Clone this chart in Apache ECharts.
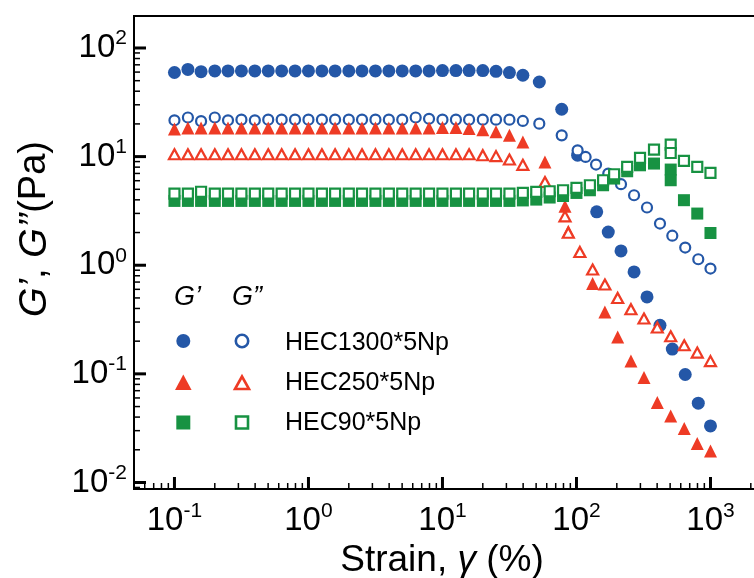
<!DOCTYPE html>
<html><head><meta charset="utf-8">
<script src="https://cdn.jsdelivr.net/npm/echarts@6/dist/echarts.min.js"></script>
<style>html,body{margin:0;padding:0;background:#fff}#c{width:754px;height:578px}</style>
</head><body><div id="c"></div>
<script>
const FONT = '"Liberation Sans", Arial, Helvetica, sans-serif';
const BLUE = '#2457A7', RED = '#EE3B25', GREEN = '#179242';

// strain values (%) shared by the linear-region points
const strainLow = [0.1,0.126,0.158,0.2,0.251,0.316,0.398,0.501,0.631,0.794,1,1.26,1.58,2,2.51,3.16,3.98,5.01,6.31,7.94,10,12.6,15.8,20,25.1,31.6,39.8];

// HEC1300*5Np
const hec1300StrainGp  = strainLow.concat([52.8,77.6,102,141.6,172.7,215,269,336,420,519,648,811,1000]);
const hec1300Gp = [59.5,63.5,60.5,61.5,61.5,61.5,61.5,61.5,61.5,61.5,61.5,61.5,61.5,61.5,61.5,61.5,61.5,61.5,61.5,61.5,
  62,62,62,62,61,59.4,56.1, 48.6,27.3,10.3,3.10,2.02,1.354,0.868,0.511,0.280,0.169,0.0986,0.0537,0.0332];
const hec1300StrainGpp = strainLow.concat([52.8,77.6,102,117,140,172.7,215,269,336,420,519,648,811,1000]);
const hec1300Gpp = [21.6,22.9,21.2,22.9,21.6,21.9,21.6,21.9,21.9,21.9,21.9,21.9,21.9,21.9,21.9,21.9,21.9,21.9,22.9,22.3,
  21.9,21.9,21.9,21.9,21.9,21.9,21.3, 20.1,15.7,11.4,9.93,8.45,6.98,5.57,4.41,3.40,2.42,1.87,1.455,1.135,0.932];

// HEC250*5Np
const hec250StrainGp  = strainLow.concat([58.2,82.1,86.9,132,163,203,255,319,401,505,637,797,1000]);
const hec250Gp = [18.0,18.3,18.3,18.3,18.3,18.3,18.3,18.3,18.3,18.3,18.3,18.3,18.3,18.3,18.3,18.3,18.3,18.3,18.3,18.3,
  18.5,18.5,18.1,17.7,16.9,15.7,13.6, 8.93,3.49,2.06,0.679,0.372,0.219,0.131,0.0925,0.0545,0.041,0.0314,0.0229,0.0195];
const hec250StrainGpp = strainLow.concat([58.2,82.1,86.9,106,132,163,203,255,319,401,505,637,797,1000]);
const hec250Gpp = [10.5,10.5,10.5,10.5,10.5,10.5,10.5,10.5,10.5,10.5,10.5,10.5,10.5,10.5,10.5,10.5,10.5,10.5,10.5,10.5,
  10.5,10.5,10.5,10.3,10.1,9.4,8.4, 5.84,2.82,1.99,1.326,0.913,0.664,0.500,0.394,0.323,0.267,0.222,0.1835,0.157,0.131];

// HEC90*5Np
const hec90Strain = strainLow.concat([50.1,63.1,79.4,100,126,158,191,239,298,379,505,505,634,797,1000]);
const hec90Gp = [3.91,3.91,3.91,3.91,3.91,3.91,3.91,3.91,3.91,3.91,3.91,3.91,3.91,3.91,3.91,3.91,3.91,3.91,3.91,3.91,
  3.91,3.91,3.91,3.91,3.91,3.91,3.95, 4.02,4.20,4.34,4.63,4.90,5.45,6.28,7.33,8.32,8.63,7.60,6.06,3.97,2.99,1.98];
const hec90Gpp = [4.57,4.57,4.75,4.57,4.57,4.57,4.57,4.57,4.57,4.57,4.57,4.57,4.57,4.57,4.57,4.57,4.57,4.57,4.57,4.57,
  4.57,4.57,4.57,4.57,4.57,4.57,4.63, 4.73,4.80,4.90,5.15,5.45,6.06,6.88,8.03,9.72,11.6,12.9,10.8,9.12,8.03,7.07];

// axis ticks
const xMajorTicks = [0.1,1,10,100,1000];
const yMajorTicks = [0.01,0.1,1,10,100];
const minorMult = [2,3,4,5,6,7,8,9];
const xMinorTicks = [0.06,0.07,0.08,0.09];
[0.1,1,10,100].forEach(d => minorMult.forEach(m => xMinorTicks.push(+(d*m).toPrecision(3))));
xMinorTicks.push(2000);
const yMinorTicks = [0.009];
[0.01,0.1,1,10].forEach(d => minorMult.forEach(m => yMinorTicks.push(+(d*m).toPrecision(3))));

const X_MIN = 0.0499, X_MAX = 2342, Y_MIN = 0.00871, Y_MAX = 197;

function pairs(xs, ys){ return xs.map((x,i)=>[x, ys[i]]); }

function supLabel(v){
  const e = Math.log10(v);
  if (Math.abs(e - Math.round(e)) > 1e-6) return '';
  return '{b|10}{s|' + Math.round(e) + '}';
}
const labelRich = {
  b: {fontSize: 33, fontFamily: FONT, color: '#000', lineHeight: 40},
  s: {fontSize: 21, fontFamily: FONT, color: '#000', verticalAlign: 'top'}
};

function xTickSeries(vals, len, w){
  return {type:'custom', silent:true, z:5, clip:false, data: vals.map(v=>[v]),
    renderItem: (p, api) => {
      const c = api.coord([api.value(0), Y_MIN]);
      return {type:'line', shape:{x1:c[0], y1:c[1], x2:c[0], y2:c[1]-len}, style:{stroke:'#000', lineWidth:w}};
    }};
}
function yTickSeries(vals, len, w){
  return {type:'custom', silent:true, z:5, clip:false, data: vals.map(v=>[X_MIN, v]),
    renderItem: (p, api) => {
      const c = api.coord([X_MIN, api.value(1)]);
      return {type:'line', shape:{x1:c[0], y1:c[1], x2:c[0]+len, y2:c[1]}, style:{stroke:'#000', lineWidth:w}};
    }};
}

const chart = echarts.init(document.getElementById('c'), null, {renderer:'canvas'});
chart.setOption({
  animation: false,
  backgroundColor: '#fff',
  grid: {left: 134, top: 16, width: 626, height: 473, containLabel: false, outerBoundsMode: 'none',
    show: true, borderColor: '#000', borderWidth: 2, backgroundColor: 'transparent'},
  xAxis: {type:'log', logBase:10, min:X_MIN, max:X_MAX, splitNumber:5,
    axisLine:{show:false}, axisTick:{show:false}, splitLine:{show:false},
    axisLabel:{formatter: supLabel, rich: labelRich, margin: 12, showMinLabel:false, showMaxLabel:false},
    name: 'Strain, {i|γ} (%)', nameLocation:'middle', nameGap: 44,
    nameTextStyle:{fontSize:37, fontFamily:FONT, color:'#000', padding:[0,10,0,0],
      rich:{i:{fontSize:37, fontFamily:FONT, fontStyle:'italic', color:'#000'}}}
  },
  yAxis: {type:'log', logBase:10, min:Y_MIN, max:Y_MAX, splitNumber:5,
    axisLine:{show:false}, axisTick:{show:false}, splitLine:{show:false},
    axisLabel:{formatter: supLabel, rich: labelRich, margin: 7, showMinLabel:false, showMaxLabel:false}
  },
  graphic: [
    {type:'text', x:35, y:229, rotation:Math.PI/2, style:{
      text:'{i|G’}, {i|G’’}(Pa)', textAlign:'center', verticalAlign:'middle', fill:'#000',
      font:'38px ' + FONT,
      rich:{i:{fontStyle:'italic', fontSize:38, fontFamily:FONT, fill:'#000'}}}},
    {type:'text', x:174, y:297, style:{text:'G’', font:'italic 27px ' + FONT, fill:'#000', verticalAlign:'middle'}},
    {type:'text', x:232, y:297, style:{text:'G”', font:'italic 27px ' + FONT, fill:'#000', verticalAlign:'middle'}},
    {type:'circle', shape:{cx:183.3, cy:341, r:7}, style:{fill:BLUE}},
    {type:'circle', shape:{cx:242, cy:341, r:6.2}, style:{fill:'#fff', stroke:BLUE, lineWidth:2.6}},
    {type:'polygon', shape:{points:[[183.3,374.5],[175,390],[191.6,390]]}, style:{fill:RED}},
    {type:'polygon', shape:{points:[[242,376.5],[235,389],[249,389]]}, style:{fill:'#fff', stroke:RED, lineWidth:2.6, lineJoin:'miter'}},
    {type:'rect', shape:{x:176.3, y:415.5, width:14, height:14}, style:{fill:GREEN}},
    {type:'rect', shape:{x:236, y:416.5, width:12, height:12}, style:{fill:'#fff', stroke:GREEN, lineWidth:2.6}},
    {type:'text', x:285, y:343, style:{text:'HEC1300*5Np', font:'25px ' + FONT, fill:'#000', verticalAlign:'middle'}},
    {type:'text', x:285, y:383, style:{text:'HEC250*5Np', font:'25px ' + FONT, fill:'#000', verticalAlign:'middle'}},
    {type:'text', x:285, y:423, style:{text:'HEC90*5Np', font:'25px ' + FONT, fill:'#000', verticalAlign:'middle'}}
  ],
  series: [
    {name:'HEC1300*5Np G′', type:'scatter', symbol:'circle', symbolSize:13, data: pairs(hec1300StrainGp, hec1300Gp),
      itemStyle:{color:BLUE, opacity:1}, z:2},
    {name:'HEC1300*5Np G″', type:'scatter', symbol:'circle', symbolSize:10, data: pairs(hec1300StrainGpp, hec1300Gpp),
      itemStyle:{color:'#fff', borderColor:BLUE, borderWidth:2.2, opacity:1}, z:2},
    {name:'HEC250*5Np G′', type:'scatter', symbol:'triangle', symbolSize:13, data: pairs(hec250StrainGp, hec250Gp),
      itemStyle:{color:RED, opacity:1}, z:2},
    {name:'HEC250*5Np G″', type:'scatter', symbol:'triangle', symbolSize:[11,10], data: pairs(hec250StrainGpp, hec250Gpp),
      itemStyle:{color:'#fff', borderColor:RED, borderWidth:2.2, opacity:1}, z:2},
    {name:'HEC90*5Np G′', type:'scatter', symbol:'rect', symbolSize:12, data: pairs(hec90Strain, hec90Gp),
      itemStyle:{color:GREEN, opacity:1}, z:2},
    {name:'HEC90*5Np G″', type:'scatter', symbol:'rect', symbolSize:10, data: pairs(hec90Strain, hec90Gpp),
      itemStyle:{color:'#fff', borderColor:GREEN, borderWidth:2.2, opacity:1}, z:2},
    xTickSeries(xMajorTicks, 12, 3),
    xTickSeries(xMinorTicks, 6, 1.5),
    yTickSeries(yMajorTicks, 12, 3),
    yTickSeries(yMinorTicks, 6, 1.5)
  ]
});
</script></body></html>
